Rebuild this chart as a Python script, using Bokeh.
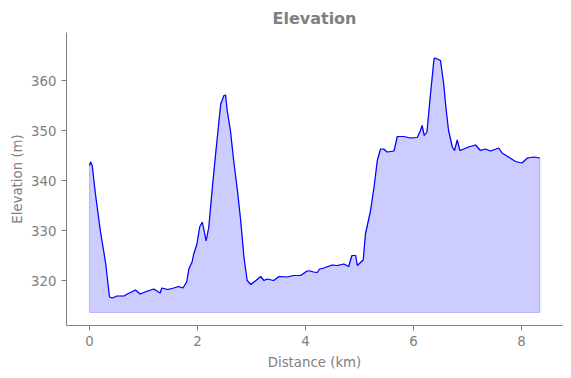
from bokeh.plotting import figure
from bokeh.models import Range1d, FixedTicker
from bokeh.embed import file_html
from bokeh.resources import INLINE

distance_km = [0.00, 0.02, 0.05, 0.11, 0.20, 0.30, 0.37, 0.42, 0.51, 0.64, 0.70, 0.85, 0.94,
               1.05, 1.19, 1.31, 1.34, 1.45, 1.56, 1.65, 1.73, 1.80, 1.84, 1.90, 1.93, 1.99,
               2.04, 2.09, 2.16, 2.21, 2.27, 2.33, 2.38, 2.43, 2.49, 2.52, 2.55, 2.61, 2.67,
               2.74, 2.80, 2.86, 2.92, 2.99, 3.07, 3.17, 3.23, 3.29, 3.41, 3.51, 3.66, 3.78,
               3.91, 4.03, 4.09, 4.15, 4.22, 4.26, 4.34, 4.49, 4.59, 4.71, 4.80, 4.86, 4.93,
               4.96, 5.07, 5.11, 5.20, 5.27, 5.33, 5.39, 5.45, 5.51, 5.64, 5.70, 5.82, 5.94,
               6.07, 6.13, 6.16, 6.20, 6.25, 6.31, 6.38, 6.40, 6.50, 6.56, 6.60, 6.65, 6.72,
               6.76, 6.81, 6.86, 6.93, 7.02, 7.15, 7.24, 7.33, 7.43, 7.58, 7.64, 7.76, 7.89,
               8.01, 8.11, 8.23, 8.34]
elevation_m = [343.0, 343.7, 343.0, 337.3, 330.0, 323.4, 316.7, 316.5, 316.9, 316.9, 317.3, 318.1, 317.3,
               317.8, 318.3, 317.5, 318.5, 318.2, 318.5, 318.8, 318.5, 319.7, 322.3, 323.7, 325.3, 327.3,
               330.7, 331.7, 327.9, 330.7, 338.0, 344.7, 350.0, 355.3, 357.0, 357.1, 354.0, 350.0, 344.0,
               338.0, 332.0, 324.7, 320.0, 319.2, 319.9, 320.8, 320.0, 320.3, 320.0, 320.8, 320.7, 321.0,
               321.0, 321.9, 321.9, 321.7, 321.6, 322.3, 322.5, 323.1, 323.0, 323.3, 322.8, 325.0, 325.0,
               323.0, 324.1, 329.3, 333.7, 338.7, 344.0, 346.3, 346.3, 345.7, 345.9, 348.8, 348.8, 348.5,
               348.6, 350.0, 351.0, 349.0, 349.7, 356.7, 364.3, 364.5, 364.0, 359.3, 354.7, 350.0, 346.7,
               346.0, 348.1, 346.0, 346.3, 346.7, 347.1, 346.0, 346.3, 345.9, 346.5, 345.5, 344.7, 343.8,
               343.5, 344.5, 344.7, 344.5]
base_elevation = 313.6

x_ticks = [0, 2, 4, 6, 8]
y_ticks = [320, 330, 340, 350, 360]

grey = "#808080"

p = figure(width=571, height=378, output_backend="svg", toolbar_location=None,
           title="Elevation", x_range=Range1d(-0.426, 8.76), y_range=Range1d(311.0, 369.6))
p.min_border_left = 66
p.min_border_right = 9
p.min_border_top = 32
p.min_border_bottom = 53
p.outline_line_color = None
p.grid.grid_line_color = None
p.background_fill_color = "white"
p.border_fill_color = "white"

p.title.align = "center"
p.title.text_color = grey
p.title.text_font = "DejaVu Sans"
p.title.text_font_size = "12pt"
p.title.text_font_style = "bold"

for ax in (p.xaxis[0], p.yaxis[0]):
    ax.axis_line_color = grey
    ax.major_tick_line_color = grey
    ax.minor_tick_line_color = None
    ax.major_tick_out = 5
    ax.major_tick_in = 0
    ax.major_label_text_color = grey
    ax.major_label_text_font = "DejaVu Sans"
    ax.major_label_text_font_size = "10pt"
    ax.axis_label_text_color = grey
    ax.axis_label_text_font = "DejaVu Sans"
    ax.axis_label_text_font_size = "10pt"
    ax.axis_label_text_font_style = "normal"

p.xaxis[0].axis_label_standoff = 6
p.yaxis[0].axis_label_standoff = 3
p.xaxis[0].ticker = FixedTicker(ticks=x_ticks)
p.yaxis[0].ticker = FixedTicker(ticks=y_ticks)
p.xaxis.axis_label = "Distance (km)"
p.yaxis.axis_label = "Elevation (m)"

px = list(distance_km) + [distance_km[-1], distance_km[0]]
py = list(elevation_m) + [base_elevation, base_elevation]
p.patch(px, py, fill_color="blue", fill_alpha=0.2, line_color="blue", line_alpha=0.2, line_width=1.2)
p.line(distance_km, elevation_m, line_color="blue", line_width=1.2)

open("out.html", "w").write(file_html(p, INLINE))
